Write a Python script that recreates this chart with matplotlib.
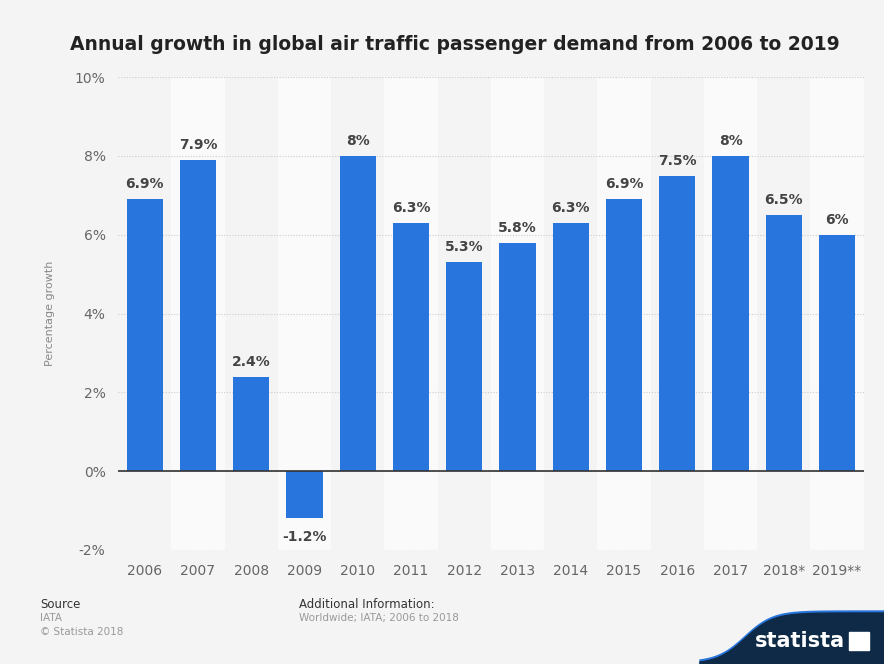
import numpy as np
import matplotlib.pyplot as plt
from matplotlib.patches import Polygon, Rectangle

years = ['2006', '2007', '2008', '2009', '2010', '2011', '2012', '2013',
         '2014', '2015', '2016', '2017', '2018*', '2019**']
growth = [6.9, 7.9, 2.4, -1.2, 8.0, 6.3, 5.3, 5.8, 6.3, 6.9, 7.5, 8.0, 6.5, 6.0]
labels = ['6.9%', '7.9%', '2.4%', '-1.2%', '8%', '6.3%', '5.3%', '5.8%',
          '6.3%', '6.9%', '7.5%', '8%', '6.5%', '6%']
yticks = [-2, 0, 2, 4, 6, 8, 10]

bg = '#f4f4f4'
fig = plt.figure(figsize=(8.84, 6.64), dpi=100, facecolor=bg)
ax = fig.add_axes([0.1335, 0.1717, 0.8435, 0.7123])
ax.set_facecolor(bg)

x = np.arange(len(years))
# alternating column bands
for i in x:
    if i % 2 == 1:
        ax.axvspan(i - 0.5, i + 0.5, color='#fafafa', zorder=0, lw=0)

for t in yticks:
    ax.axhline(t, color='#cccccc', lw=0.8, ls=(0, (1, 1.5)), zorder=1)

ax.bar(x, growth, width=0.68, color='#2876dd', zorder=3)
ax.axhline(0, color='#333333', lw=1.2, zorder=4)

for xi, v, lab in zip(x, growth, labels):
    if v >= 0:
        ax.text(xi, v + 0.2, lab, ha='center', va='bottom', fontsize=10,
                fontweight='bold', color='#444444')
    else:
        ax.text(xi, v - 0.3, lab, ha='center', va='top', fontsize=10,
                fontweight='bold', color='#444444')

ax.set_xlim(-0.5, len(years) - 0.5)
ax.set_ylim(-2, 10)
ax.set_yticks(yticks)
ax.set_yticklabels([f'{t}%' for t in yticks])
ax.set_xticks(x)
ax.set_xticklabels(years)
ax.tick_params(length=0, colors='#666666', labelsize=10)
ax.tick_params(axis='x', pad=10)
ax.tick_params(axis='y', pad=9)
for s in ax.spines.values():
    s.set_visible(False)
ax.set_ylabel('Percentage growth', color='#888888', fontsize=8, labelpad=14)

fig.text(0.515, 0.933, 'Annual growth in global air traffic passenger demand from 2006 to 2019',
         ha='center', va='center', fontsize=13.5, fontweight='bold', color='#222222')

fig.text(40 / 884, 1 - 604 / 664, 'Source', fontsize=8.5, color='#333333', va='center')
fig.text(40 / 884, 1 - 618 / 664, 'IATA', fontsize=7.5, color='#999999', va='center')
fig.text(40 / 884, 1 - 632 / 664, '\u00a9 Statista 2018', fontsize=7.5, color='#999999', va='center')
fig.text(299 / 884, 1 - 604 / 664, 'Additional Information:', fontsize=8.5, color='#333333', va='center')
fig.text(299 / 884, 1 - 618 / 664, 'Worldwide; IATA; 2006 to 2018', fontsize=7.5, color='#999999', va='center')

# statista logo swoosh
xs = np.linspace(700, 884, 60)
ys = 664 - (664 - 613) / (1 + np.exp(-(xs - 745) / 14))
pts = [(a / 884, 1 - b / 664) for a, b in zip(xs, ys)] + [(1, 0), (700 / 884, 0)]
fig.patches.append(Polygon([(a / 884, 1 - (b - 2) / 664) for a, b in zip(xs, ys)] + [(1, 0), (700 / 884, 0)],
                           closed=True, transform=fig.transFigure, color='#2876dd', zorder=1))
fig.patches.append(Polygon(pts, closed=True, transform=fig.transFigure, color='#0e2a47', zorder=2))
fig.text(800 / 884, 1 - 641 / 664, 'statista', fontsize=15, fontweight='bold', color='white',
         ha='center', va='center', zorder=3)
fig.patches.append(Rectangle((849 / 884, 1 - 650 / 664), 20 / 884, 18 / 664,
                             transform=fig.transFigure, color='white', zorder=3))

fig.savefig('out.png', dpi=100, facecolor=bg)
